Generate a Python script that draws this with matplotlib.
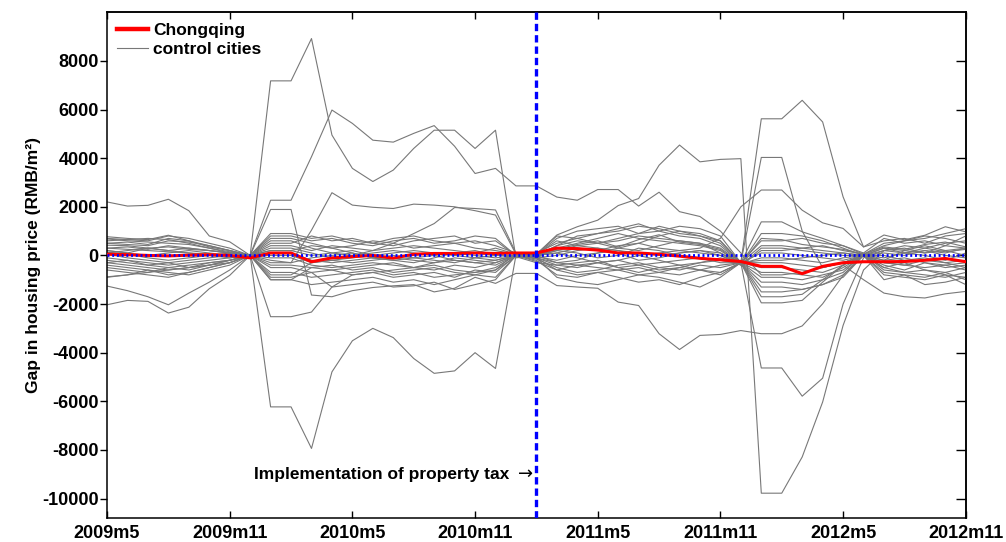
import matplotlib
matplotlib.use("Agg")
import matplotlib.pyplot as plt

plt.rcParams['font.family'] = ['Liberation Sans', 'DejaVu Sans']
plt.rcParams['font.weight'] = 'bold'
plt.rcParams['axes.unicode_minus'] = False

# months 2009m5 .. 2012m11 (43 points)
meses = list(range(43))
tick_pos = [0, 6, 12, 18, 24, 30, 36, 42]
tick_labels = ["2009m5", "2009m11", "2010m5", "2010m11",
               "2011m5", "2011m11", "2012m5", "2012m11"]
y_ticks = [-10000, -8000, -6000, -4000, -2000, 0, 2000, 4000, 6000, 8000]
tax_month = 21  # 2011m2

chongqing = [50, 30, 0, -20, 10, 30, 0, -100,
             100, 100, -260, -100, -50, 0, -110, 50, 80, 80, 100, 80, 100,
             100, 300, 280, 220, 100, 100, 50, -30, -120, -180, -250,
             -450, -450, -750, -450, -300, -260, -260, -250, -200, -125, -260]

# gaps of the control cities
controles = [
    [2200, 2030, 2060, 2310, 1840, 800, 560, 0,
     7180, 7180, 8920, 4950, 3580, 3040, 3510, 4400, 5150, 5150, 4400, 5150, -100,
     0, 250, 450, 600, 350, 650, 850, 550, 450, 250, -350,
     700, 650, 450, 350, 250, 50, 350, 250, 450, 550, 350],
    [-1260, -1450, -1700, -2030, -1550, -1100, -600, 0,
     2270, 2270, 4060, 5980, 5430, 4740, 4660, 5020, 5340, 4490, 3370, 3580, 2860,
     2860, 2400, 2270, 2710, 2710, 2030, 2600, 1800, 1600, 1000, 100,
     -800, -800, -700, -500, -300, 0, -300, -400, -200, -300, -500],
    [-2030, -1850, -1890, -2370, -2130, -1370, -820, 0,
     -6230, -6230, -7940, -4790, -3510, -3000, -3380, -4240, -4850, -4750, -4000, -4650, 0,
     50, 840, 1180, 1450, 2050, 2340, 3710, 4540, 3850, 3950, 3980,
     -9780, -9780, -8290, -6030, -2880, -600, 200, 100, 300, 150, 250],
    [300, 350, 250, 400, 300, 200, 100, 0,
     1890, 1890, -1630, -1700, -1450, -1320, -1250, -1200, -1500, -1350, -900, -1150, -740,
     -740, -1240, -1300, -1350, -1920, -2060, -3220, -3870, -3290, -3250, -3090,
     -3220, -3220, -2900, -1990, -820, 0, -500, -700, -600, -800, -900],
    [500, 550, 450, 700, 600, 400, 200, 0,
     -200, -300, 1040, 2580, 2070, 1980, 1930, 2110, 2070, 2000, 1840, 1660, 50,
     0, 400, 800, 900, 1000, 1200, 1100, 900, 800, 600, -300,
     5620, 5620, 6380, 5490, 2410, 350, 600, 700, 500, 800, 900],
    [-300, -200, -400, -300, -500, -300, -200, 0,
     600, 600, 300, 100, 0, 200, 500, 900, 1310, 1970, 1930, 1870, 100,
     0, -300, -200, 100, 300, 500, 800, 1000, 900, 600, -300,
     4030, 4030, 1000, -500, -300, 0, 300, 200, 100, 200, 300],
    [700, 650, 600, 800, 700, 500, 300, 0,
     -2520, -2520, -2330, -1300, -800, -700, -600, -500, -400, -600, -700, -500, 0,
     -50, 200, 400, 300, 200, 0, 100, 200, 300, 700, 2000,
     2690, 2690, 1860, 1340, 1110, 350, 840, 640, 830, 1180, 970],
    [-900, -800, -600, -800, -700, -500, -300, 0,
     -900, -900, -700, -1300, -1200, -1100, -1300, -1250, -1100, -1400, -1200, -1000, 0,
     -100, -600, -800, -700, -900, -1100, -1000, -1200, -900, -700, -300,
     -1950, -1950, -1850, -1100, -400, -1000, -1550, -1700, -1750, -1580, -1480],
    [200, 100, 300, 200, 100, 0, -100, 0,
     800, 800, 600, 700, 500, 400, 600, 700, 500, 600, 800, 700, 0,
     50, 700, 1000, 1100, 1200, 900, 1000, 1200, 1100, 800, -300,
     -4630, -4630, -5790, -5050, -2000, -100, 200, 300, 100, 400, 300],
    [-500, -600, -700, -500, -400, -300, -200, 0,
     -1000, -1000, -500, -600, -800, -700, -900, -800, -700, -900, -600, -700, 0,
     -100, -900, -1100, -1200, -1000, -800, -900, -1100, -1300, -900, -300,
     -1700, -1700, -1600, -1000, -400, 0, -700, -800, -900, -700, -1000],
    [770, 700, 650, 830, 600, 350, 200, 0,
     900, 900, 700, 800, 600, 500, 700, 800, 600, 500, 600, 400, 100,
     100, 500, 700, 900, 1100, 1300, 1000, 800, 700, 400, -300,
     1380, 1380, 970, 700, 400, 50, 500, 600, 700, 900, 1100],
    [680, 600, 550, 500, 450, 300, 150, 0,
     700, 700, 500, 300, 400, 600, 500, 300, 400, 500, 300, 200, 50,
     0, 300, 500, 700, 900, 700, 600, 500, 400, 200, -350,
     900, 900, 800, 600, 300, 0, 200, 400, 300, 500, 600],
    [600, 650, 700, 650, 500, 300, 100, 0,
     500, 500, 800, 600, 700, 500, 400, 600, 700, 800, 500, 600, 0,
     50, 600, 400, 500, 600, 800, 700, 600, 500, 300, -300,
     600, 600, 700, 500, 400, 100, 700, 500, 600, 400, 800],
    [500, 450, 400, 600, 550, 400, 200, 0,
     400, 400, 200, 400, 300, 200, 300, 400, 300, 200, 100, 300, 50,
     0, 100, 300, 200, 400, 500, 300, 200, 100, 0, -400,
     300, 300, 200, 100, 0, 0, 100, 0, 200, 100, 300],
    [420, 400, 300, 350, 250, 200, 100, 0,
     300, 300, 100, -100, 0, 100, 200, 100, 0, 100, 200, 0, 0,
     -50, -200, 0, 100, 200, 100, 0, 100, 200, 100, -300,
     100, 100, 0, -100, -200, 0, -100, 100, 0, -200, 100],
    [300, 250, 200, 150, 100, 50, 0, 0,
     200, 200, 0, 100, 200, 0, -100, 0, 100, 0, -100, -200, 0,
     0, 200, 100, -100, 0, 300, 200, 0, -100, -200, -350,
     -100, -100, -200, -300, -100, 0, 0, -200, -100, -300, -200],
    [200, 100, 0, 100, 200, 100, 0, 0,
     100, 100, -200, -300, -200, -100, 0, -100, -200, -300, -100, 0, 0,
     -100, -400, -300, -200, -500, -400, -300, -200, -100, -300, -300,
     -300, -300, -400, -500, -300, 0, -200, -100, -300, -400, -300],
    [130, 50, -100, -200, -100, 0, 100, 0,
     -100, -100, -400, -500, -400, -300, -400, -500, -300, -200, -300, -400, 0,
     -150, -500, -700, -600, -400, -300, -500, -600, -400, -500, -300,
     -500, -500, -600, -700, -400, 0, -300, -400, -500, -400, -600],
    [50, -100, -200, -300, -200, -100, 0, 0,
     -300, -300, -100, 0, 100, -100, -200, -300, -100, 100, 0, -100, 0,
     -100, -300, -400, -500, -600, -500, -700, -800, -600, -400, -300,
     -700, -700, -800, -900, -500, 0, -400, -600, -300, -500, -400],
    [-100, -200, -300, -400, -300, -200, -100, 0,
     -500, -500, -700, -600, -500, -400, -300, -500, -600, -400, -500, -300, 0,
     -200, -800, -900, -700, -600, -800, -700, -500, -600, -800, -300,
     -900, -900, -1000, -800, -600, 0, -500, -300, -600, -700, -500],
    [-200, -300, -400, -500, -600, -400, -200, 0,
     -700, -700, -900, -800, -700, -600, -800, -700, -900, -800, -700, -600, -50,
     -300, -400, -500, -300, -200, -400, -600, -500, -300, -200, -300,
     -1100, -1100, -1200, -1000, -700, 50, -600, -700, -800, -900, -700],
    [-300, -400, -500, -600, -500, -400, -300, 0,
     -800, -800, -300, -200, -300, -200, -100, -200, -300, -100, -200, -300, 0,
     -250, -600, -400, -300, -500, -700, -500, -400, -600, -700, -300,
     -1300, -1300, -1400, -1200, -800, 0, -800, -900, -1000, -800, -1200],
    [-400, -500, -600, -700, -800, -600, -400, 0,
     -1000, -1000, -1200, -1100, -1000, -900, -1100, -1000, -1200, -1000, -800, -900, 0,
     -100, 0, 200, 300, 100, -200, -100, 100, 200, 0, -300,
     -1500, -1500, -1400, -1200, -900, 0, -1000, -800, -1200, -1100, -900],
    [-600, -700, -800, -900, -700, -500, -300, 0,
     -400, -400, -500, -400, -600, -500, -700, -600, -500, -700, -800, -600, 100,
     0, 400, 600, 500, 300, 200, 400, 600, 500, 100, -400,
     200, 200, 300, 400, 200, 50, 400, 600, 800, 700, 500],
    [-880, -800, -700, -600, -500, -400, -200, 0,
     200, 200, 400, 300, 100, -100, -200, -100, 0, -200, -300, -200, 0,
     0, 100, -100, -300, -200, 0, -200, -400, -300, -100, -300,
     -200, -200, -100, 0, 100, 0, 300, 100, 200, 0, -100],
    [100, 200, 300, 200, 300, 200, 100, 0,
     0, 0, -300, -200, -100, 0, 100, 200, 100, 0, 100, 0, 0,
     50, 800, 700, 500, 700, 900, 1200, 1000, 800, 500, -300,
     400, 400, 300, 200, 100, 0, -200, 200, 400, 200, 0],
]

fig = plt.figure(figsize=(10.06, 5.42), dpi=100)
ax = fig.add_axes([0.1064, 0.0443, 0.8536, 0.9330])

for i, gap in enumerate(controles):
    ax.plot(meses, gap, color='0.47', lw=0.8,
            label='control cities' if i == 0 else None, zorder=2)
ax.plot(meses, chongqing, color='red', lw=2.2, label='Chongqing', zorder=3)

ax.axhline(0, color='blue', lw=2.0, linestyle=(0, (0.7, 1.0)), zorder=4)
ax.axvline(tax_month, color='blue', lw=2.4, linestyle=(0, (2.2, 1.2)), zorder=4)

# annotation: text + arrow pointing at the dashed line
ax.text(tax_month - 0.15, -9000, "\u2192", ha='right', va='center',
        fontsize=13, family='DejaVu Sans', fontweight='normal')
ax.annotate("Implementation of property tax", xy=(tax_month - 0.15, -9000),
            xytext=(-17, 0), textcoords='offset points',
            ha='right', va='center', fontsize=12.5, fontweight='bold')

ax.set_xlim(0, 42)
ax.set_ylim(-10800, 10000)
ax.set_xticks(tick_pos)
ax.set_xticklabels(tick_labels)
ax.set_yticks(y_ticks)
ax.tick_params(axis='x', direction='in', length=5, width=1, labelsize=13, pad=5)
ax.tick_params(axis='y', direction='out', length=5, width=1, labelsize=13, pad=1)
for lab in ax.get_xticklabels() + ax.get_yticklabels():
    lab.set_fontweight('bold')

top = ax.secondary_xaxis('top')
top.set_xticks(tick_pos)
top.tick_params(direction='in', length=5, width=1, labeltop=False)
right = ax.secondary_yaxis('right')
right.set_yticks(y_ticks)
right.tick_params(direction='in', length=7, width=1, labelright=False)

for sp in list(ax.spines.values()) + [top.spines['top'], right.spines['right']]:
    sp.set_linewidth(1.1)

ax.set_ylabel("Gap in housing price (RMB/m\u00b2)", fontsize=12.5,
              fontweight='bold', labelpad=1)

handles, labels = ax.get_legend_handles_labels()
leg = ax.legend(handles[::-1], labels[::-1], loc='upper left', frameon=False,
                fontsize=12.5, handlelength=1.75, handletextpad=0.3,
                labelspacing=0.25, borderaxespad=0.2)
leg.get_lines()[0].set_linewidth(3.2)
for t in leg.get_texts():
    t.set_fontweight('bold')

plt.savefig("out.png", dpi=100)
plt.close()
